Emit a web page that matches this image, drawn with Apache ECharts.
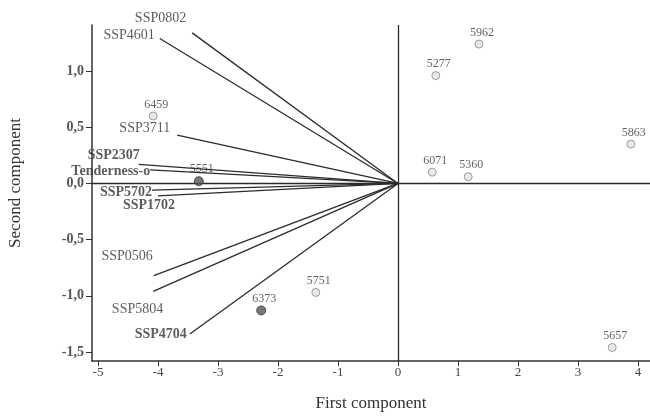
<!DOCTYPE html>
<html>
<head>
<meta charset="utf-8">
<script src="https://cdn.jsdelivr.net/npm/echarts@6/dist/echarts.min.js"></script>
<style>
  html, body { margin: 0; padding: 0; background: #fff; }
  #biplot { width: 650px; height: 416px; }
</style>
</head>
<body>
<div id="biplot"></div>
<script>
// trait vectors (loadings)
const vecNames = ['SSP0802', 'SSP4601', 'SSP3711', 'SSP2307', 'Tenderness-o', 'SSP5702', 'SSP1702', 'SSP0506', 'SSP5804', 'SSP4704'];
const vecX = [-3.43, -3.97, -3.68, -4.32, -4.13, -4.10, -4.00, -4.07, -4.08, -3.47];
const vecY = [1.34, 1.29, 0.43, 0.17, 0.12, -0.06, -0.11, -0.82, -0.96, -1.34];
const vecBold = ['SSP2307', 'Tenderness-o', 'SSP5702', 'SSP1702', 'SSP4704'];

// genotype scores
const ptNames = ['5962', '5277', '5863', '6071', '5360', '6459', '5551', '5751', '6373', '5657'];
const ptX = [1.35, 0.63, 3.88, 0.57, 1.17, -4.08, -3.32, -1.37, -2.28, 3.57];
const ptY = [1.24, 0.96, 0.35, 0.10, 0.06, 0.60, 0.02, -0.97, -1.13, -1.46];
const ptDark = ['5551', '6373'];

const xTicks = [-5, -4, -3, -2, -1, 0, 1, 2, 3, 4];
const yTicks = [-1.5, -1, -0.5, 0, 0.5, 1];

// where each vector label sits relative to its arrow end (px)
const vecLabelShift = {
  'SSP0802': [-6, -15], 'SSP4601': [-5, -3], 'SSP3711': [-7, -7],
  'SSP2307': [1, -9], 'Tenderness-o': [0, 1], 'SSP5702': [0, 2],
  'SSP1702': [17, 10], 'SSP0506': [-1, -19], 'SSP5804': [10, 18],
  'SSP4704': [-3, 0]
};

const serif = '"Liberation Serif", "DejaVu Serif", serif';
const chart = echarts.init(document.getElementById('biplot'));

const series = [];
vecNames.forEach((n, i) => {
  series.push({
    type: 'line',
    data: [[0, 0], [vecX[i], vecY[i]]],
    symbol: 'none',
    silent: true,
    lineStyle: { color: '#2b2b2b', width: 1.3 },
    z: 3
  });
});
series.push({
  type: 'scatter',
  symbolSize: 1,
  itemStyle: { color: 'rgba(0,0,0,0)' },
  data: vecNames.map((n, i) => ({
    value: [vecX[i], vecY[i]],
    name: n,
    label: {
      offset: vecLabelShift[n],
      fontWeight: vecBold.includes(n) ? 'bold' : 'normal'
    }
  })),
  label: {
    show: true,
    position: 'inside',
    align: 'right',
    verticalAlign: 'middle',
    formatter: p => p.name,
    fontFamily: serif,
    fontSize: 14,
    color: '#333'
  },
  z: 4
});
series.push({
  type: 'scatter',
  data: ptNames.map((n, i) => {
    const dark = ptDark.includes(n);
    return {
      value: [ptX[i], ptY[i]],
      name: n,
      symbolSize: dark ? 9 : 8,
      itemStyle: dark
        ? { color: '#555', borderColor: '#333', borderWidth: 1 }
        : { color: '#e2e2e2', borderColor: '#888', borderWidth: 1 }
    };
  }),
  label: {
    show: true,
    position: 'top',
    distance: 1,
    offset: [3, 0],
    formatter: p => p.name,
    fontFamily: serif,
    fontSize: 12,
    color: '#3a3a3a'
  },
  markLine: {
    silent: true,
    symbol: 'none',
    label: { show: false },
    lineStyle: { color: '#2b2b2b', width: 1.3, type: 'solid' },
    data: [{ xAxis: 0 }, { yAxis: 0 }]
  },
  z: 5
});

const option = {
  animation: false,
  grid: { left: 92, right: 0, top: 25, bottom: 55, outerBoundsMode: 'none' },
  xAxis: {
    type: 'value',
    min: -5.1,
    max: 4.2,
    name: 'First component',
    nameLocation: 'middle',
    nameGap: 34,
    nameTextStyle: { fontFamily: serif, fontSize: 17, color: '#333' },
    axisLine: { onZero: false, lineStyle: { color: '#333', width: 1.5 } },
    axisTick: { show: true, customValues: xTicks, length: 5, lineStyle: { color: '#333' } },
    axisLabel: { customValues: xTicks, fontFamily: serif, fontSize: 13, color: '#444', margin: 5 },
    splitLine: { show: false }
  },
  yAxis: {
    type: 'value',
    min: -1.58,
    max: 1.41,
    axisLine: { onZero: false, lineStyle: { color: '#333', width: 1.5 } },
    axisTick: { show: true, customValues: yTicks, length: 6, lineStyle: { color: '#333' } },
    axisLabel: {
      customValues: yTicks,
      fontFamily: serif,
      fontSize: 14,
      fontWeight: 'bold',
      color: '#555',
      margin: 8,
      formatter: v => v.toFixed(1).replace('.', ',')
    },
    splitLine: { show: false }
  },
  graphic: [{
    type: 'text',
    x: 16,
    y: 183,
    rotation: Math.PI / 2,
    style: {
      text: 'Second component',
      font: '17px ' + serif,
      fill: '#333',
      align: 'center',
      verticalAlign: 'middle'
    }
  }],
  series
};
chart.setOption(option);
window.addEventListener('resize', () => chart.resize());
</script>
</body>
</html>
